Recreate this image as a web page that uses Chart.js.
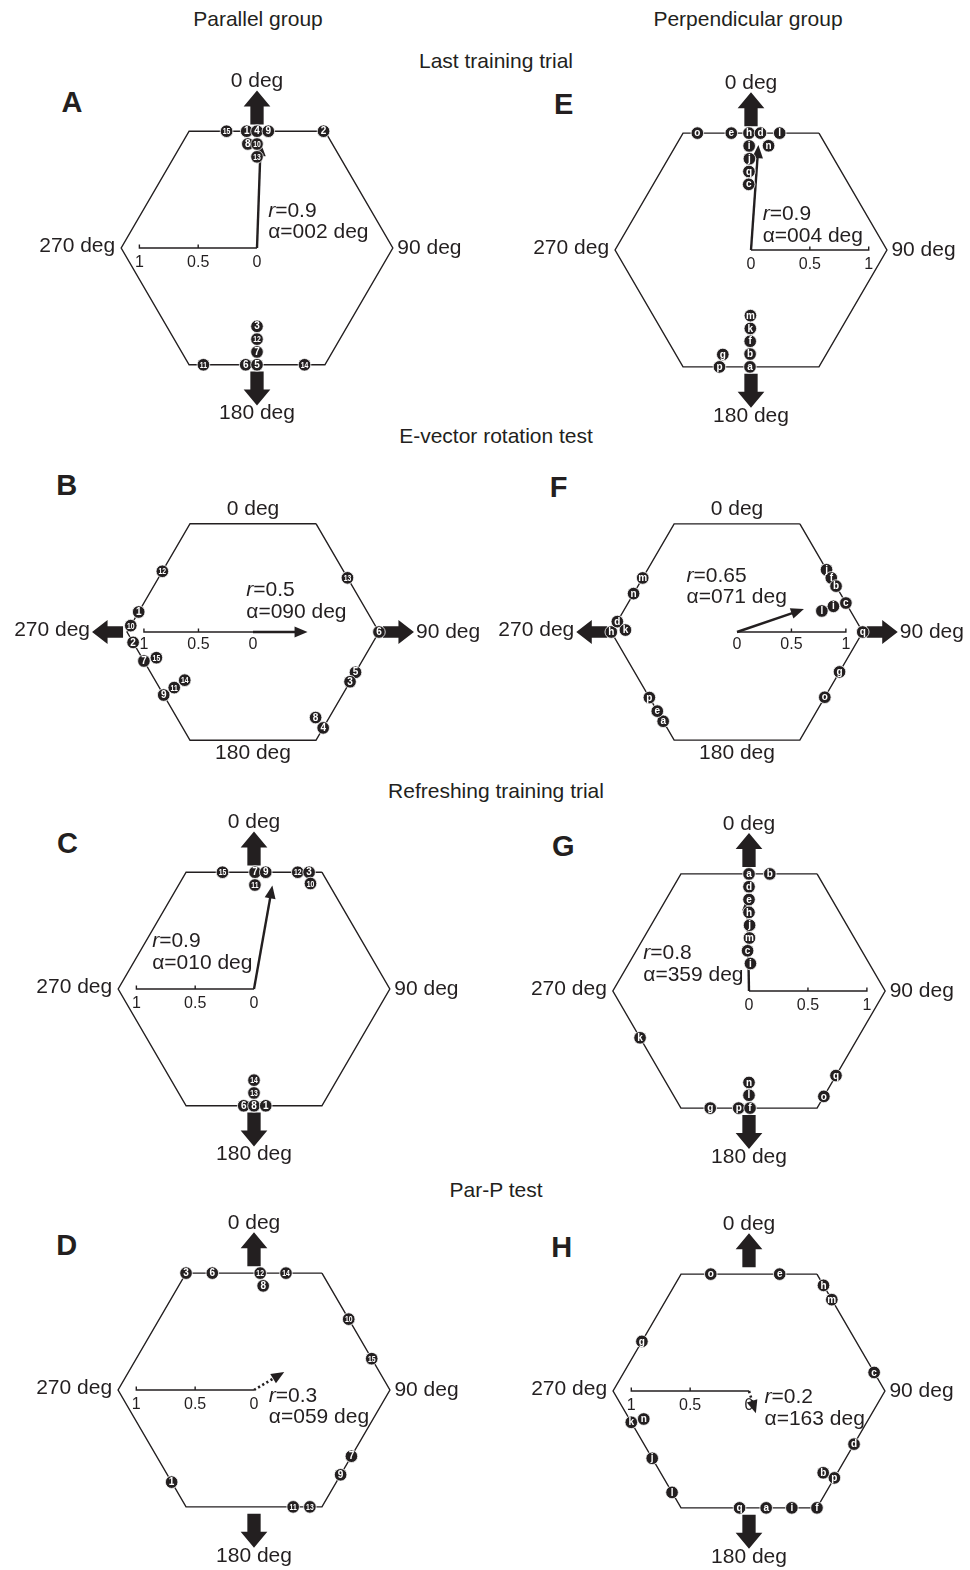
<!DOCTYPE html>
<html>
<head>
<meta charset="utf-8">
<title>Heading distributions</title>
<script src="https://cdn.jsdelivr.net/npm/chart.js@4.4.1/dist/chart.umd.min.js"></script>
<style>
  body { margin: 0; background: #fff; }
  #page { position: relative; width: 970px; height: 1570px; overflow: hidden; font-family: "Liberation Sans", Arial, sans-serif; color: #231f20; }
  .title { position: absolute; font-size: 21px; line-height: 21px; white-space: nowrap; transform: translateX(-50%); }
  .letter { position: absolute; font-size: 29px; line-height: 29px; font-weight: bold; }
  canvas { position: absolute; }
</style>
</head>
<body>
<div id="page">
  <div class="title" style="left:258px;top:7.5px">Parallel group</div>
  <div class="title" style="left:748px;top:7.5px">Perpendicular group</div>
  <div class="title" style="left:496px;top:50px">Last training trial</div>
  <div class="title" style="left:496px;top:424.7px">E-vector rotation test</div>
  <div class="title" style="left:496px;top:779.7px">Refreshing training trial</div>
  <div class="title" style="left:496px;top:1178.7px">Par-P test</div>
  <div class="letter" style="left:61.5px;top:87.6px">A</div>
  <div class="letter" style="left:56.2px;top:471px">B</div>
  <div class="letter" style="left:57px;top:829.2px">C</div>
  <div class="letter" style="left:56.2px;top:1231px">D</div>
  <div class="letter" style="left:554px;top:90px">E</div>
  <div class="letter" style="left:549.7px;top:472.6px">F</div>
  <div class="letter" style="left:552px;top:831.6px">G</div>
  <div class="letter" style="left:551.2px;top:1232.6px">H</div>
</div>
<script>
// headings in deg (clockwise from 0 deg), stack = how many places a point is pushed inwards
const labelsA = ['15', '1', '4', '9', '2', '8', '10', '13', '11', '6', '5', '14', '7', '12', '3'];
const headingsA = [345.5, 355, 0, 5.5, 29.5, 355, 0, 0, 204.5, 185.5, 180, 158, 180, 180, 180];
const stacksA = [0, 0, 0, 0, 0, 1, 1, 2, 0, 0, 0, 0, 1, 2, 3];

const labelsB = ['12', '1', '10', '2', '7', '15', '9', '11', '14', '13', '6', '5', '3', '4', '8'];
const headingsB = [304, 280, 273, 265, 255, 255, 234.6, 234.6, 234.6, 60, 90, 111.6, 117.3, 144, 144];
const stacksB = [0, 0, 0, 0, 0, 1, 0, 1, 2, 0, 0, 0, 0, 0, 1];

const labelsC = ['15', '7', '9', '12', '3', '11', '10', '6', '8', '1', '13', '14'];
const headingsC = [345, 0.5, 5.7, 20.4, 25.1, 0.5, 28, 185, 180, 174.3, 180, 180];
const stacksC = [0, 0, 0, 0, 0, 1, 1, 0, 0, 0, 1, 2];

const labelsD = ['3', '6', '12', '14', '8', '10', '15', '7', '9', '11', '13', '1'];
const headingsD = [330, 340.5, 3, 15.2, 5, 53, 75, 124.4, 134.6, 161.6, 154.6, 221.6];
const stacksD = [0, 0, 0, 0, 1, 0, 0, 0, 0, 0, 0, 0];

const labelsE = ['o', 'e', 'h', 'd', 'l', 'n', 'i', 'j', 'q', 'c', 'p', 'a', 'g', 'b', 'f', 'k', 'm'];
const headingsE = [335.5, 350.5, 359, 4.6, 13.7, 9.5, 359, 359, 358.5, 358, 195, 180.5, 195, 180.5, 180.5, 180.5, 180.5];
const stacksE = [0, 0, 0, 0, 0, 1, 1, 2, 3, 4, 0, 0, 1, 1, 2, 3, 4];

const labelsF = ['j', 'f', 'b', 'c', 'i', 'l', 'q', 'g', 'o', 'a', 'e', 'p', 'h', 'd', 'k', 'n', 'm'];
const headingsF = [55, 60, 65, 75, 75, 76, 90, 111.4, 126.8, 219.4, 225, 233, 270, 275, 271, 290.5, 300];
const stacksF = [0, 0, 0, 0, 1, 2, 0, 0, 0, 0, 0, 0, 0, 0, 1, 0, 0];

const labelsG = ['a', 'b', 'd', 'e', 'h', 'j', 'm', 'c', 'i', 'g', 'p', 'f', 'l', 'n', 'o', 'q', 'k'];
const headingsG = [0, 10, 0, 0, 0, 0.5, 0.5, 358, 3, 198.2, 185, 179.5, 180, 180, 144.8, 134.4, 246.6];
const stacksG = [0, 0, 1, 2, 3, 4, 5, 6, 7, 0, 0, 0, 1, 2, 0, 0, 0];

const labelsH = ['o', 'e', 'h', 'm', 'c', 'd', 'p', 'b', 'f', 'i', 'a', 'q', 'l', 'j', 'k', 'n', 'g'];
const headingsH = [342, 14.6, 35, 42, 81.5, 117, 135.7, 138, 150, 160, 171.7, 184.6, 217, 235, 255, 255, 295];
const stacksH = [0, 0, 0, 0, 0, 0, 0, 1, 0, 0, 0, 0, 0, 0, 0, 1, 0];

// mean vectors, panels A..H
const meanR = [0.9, 0.5, 0.9, 0.3, 0.9, 0.65, 0.8, 0.2];
const meanAlpha = [2, 90, 10, 59, 4, 71, 359, 163];

const dirLabels = ['0 deg', '90 deg', '180 deg', '270 deg'];
const scaleTicks = [0, 0.5, 1];
const scaleTickLabels = ['0', '0.5', '1'];

const INK = '#231f20';
const FONT = '"Liberation Sans", Arial, sans-serif';
const STEP_PX = 13.3;

// layout of each panel on the page (centre of hexagon, px per r=1)
const PANELS = [
  { id: 'A', cx: 256.5, cy: 248.3, u: 121.2, labels: labelsA, headings: headingsA, stacks: stacksA, arrows: 'v', bar: -1, note: [0.095, 0.316] },
  { id: 'B', cx: 253, cy: 632.3, u: 112.4, labels: labelsB, headings: headingsB, stacks: stacksB, arrows: 'h', bar: -1, note: [-0.062, 0.383] },
  { id: 'C', cx: 253.8, cy: 989.2, u: 121.2, labels: labelsC, headings: headingsC, stacks: stacksC, arrows: 'v', bar: -1, note: [-0.866, 0.406] },
  { id: 'D', cx: 253.5, cy: 1390.3, u: 121.3, labels: labelsD, headings: headingsD, stacks: stacksD, arrows: 'v', bar: -1, note: [0.126, -0.053], dotted: true },
  { id: 'E', cx: 751, cy: 250.3, u: 121.3, labels: labelsE, headings: headingsE, stacks: stacksE, arrows: 'v', bar: 1, note: [0.099, 0.305] },
  { id: 'F', cx: 737, cy: 632.2, u: 112.2, labels: labelsF, headings: headingsF, stacks: stacksF, arrows: 'h', bar: 1, note: [-0.463, 0.517] },
  { id: 'G', cx: 749, cy: 990.8, u: 121.5, labels: labelsG, headings: headingsG, stacks: stacksG, arrows: 'v', bar: 1, note: [-0.897, 0.321] },
  { id: 'H', cx: 749, cy: 1390.8, u: 121.3, labels: labelsH, headings: headingsH, stacks: stacksH, arrows: 'v', bar: -1, note: [0.132, -0.054], dotted: true }
];

// distance from centre to the hexagon (apothem = 1) along a heading
function hexDist(h) {
  let a = ((h % 60) + 60) % 60;
  if (a > 30) a -= 60;
  return 1 / Math.cos(a * Math.PI / 180);
}

function place(h, stack, step) {
  const d = hexDist(h) - stack * step;
  const t = h * Math.PI / 180;
  return { x: d * Math.sin(t), y: d * Math.cos(t) };
}

function blockArrow(ctx, x0, y0, dx, dy, shaft, head, sw, hw) {
  const nx = -dy, ny = dx;
  const pts = [
    [x0 + nx * sw / 2, y0 + ny * sw / 2],
    [x0 + dx * shaft + nx * sw / 2, y0 + dy * shaft + ny * sw / 2],
    [x0 + dx * shaft + nx * hw / 2, y0 + dy * shaft + ny * hw / 2],
    [x0 + dx * (shaft + head), y0 + dy * (shaft + head)],
    [x0 + dx * shaft - nx * hw / 2, y0 + dy * shaft - ny * hw / 2],
    [x0 + dx * shaft - nx * sw / 2, y0 + dy * shaft - ny * sw / 2],
    [x0 - nx * sw / 2, y0 - ny * sw / 2]
  ];
  ctx.beginPath();
  pts.forEach((p, i) => i ? ctx.lineTo(p[0], p[1]) : ctx.moveTo(p[0], p[1]));
  ctx.closePath();
  ctx.fill();
}

function panelPlugin(p, r, alpha) {
  return {
    id: 'panel' + p.id,
    beforeDatasetsDraw(chart) {
      const ctx = chart.ctx, xs = chart.scales.x, ys = chart.scales.y;
      const X = v => xs.getPixelForValue(v), Y = v => ys.getPixelForValue(v);
      const cx = X(0), cy = Y(0), u = X(1) - X(0), R = u / Math.cos(Math.PI / 6);
      ctx.save();
      ctx.fillStyle = INK;
      ctx.strokeStyle = INK;

      // training e-vector arrows
      if (p.arrows === 'v') {
        blockArrow(ctx, cx, cy - u - 6, 0, -1, 18, 16, 13.3, 26.7);
        blockArrow(ctx, cx, cy + u + 6, 0, 1, 18, 16, 13.3, 26.7);
      } else {
        blockArrow(ctx, cx + R + 4, cy, 1, 0, 15.5, 15.5, 11.7, 24);
        blockArrow(ctx, cx - R - 4, cy, -1, 0, 15.5, 15.5, 11.7, 24);
      }

      // scale bar for r
      ctx.lineWidth = 1.4;
      ctx.beginPath();
      ctx.moveTo(X(0), cy);
      ctx.lineTo(X(p.bar), cy);
      scaleTicks.forEach(t => {
        if (t > 0) { ctx.moveTo(X(p.bar * t), cy - 3.5); ctx.lineTo(X(p.bar * t), cy + 0.7); }
      });
      ctx.stroke();
      ctx.font = '16px ' + FONT;
      ctx.textAlign = 'center';
      ctx.textBaseline = 'middle';
      scaleTicks.forEach((t, i) => ctx.fillText(scaleTickLabels[i], X(p.bar * t), cy + 0.12 * u));

      // mean vector
      const a = alpha * Math.PI / 180;
      const ux = Math.sin(a), uy = -Math.cos(a);
      const tx = X(r * Math.sin(a)), ty = Y(r * Math.cos(a));
      const hl = 13, hw = 5.5;
      const bx = tx - ux * hl, by = ty - uy * hl;
      ctx.lineWidth = p.dotted ? 2.6 : 2.4;
      if (p.dotted) ctx.setLineDash([2.2, 2.6]);
      ctx.beginPath();
      ctx.moveTo(cx, cy);
      ctx.lineTo(bx + ux * 1.5, by + uy * 1.5);
      ctx.stroke();
      ctx.setLineDash([]);
      ctx.beginPath();
      ctx.moveTo(tx, ty);
      ctx.lineTo(bx - uy * hw, by + ux * hw);
      ctx.lineTo(bx + uy * hw, by - ux * hw);
      ctx.closePath();
      ctx.fill();
      ctx.restore();
    },
    afterDatasetsDraw(chart) {
      const ctx = chart.ctx, xs = chart.scales.x, ys = chart.scales.y;
      const X = v => xs.getPixelForValue(v), Y = v => ys.getPixelForValue(v);
      const cx = X(0), cy = Y(0), u = X(1) - X(0), R = u / Math.cos(Math.PI / 6);
      ctx.save();

      // labels inside the points
      ctx.fillStyle = '#fff';
      ctx.textAlign = 'center';
      ctx.textBaseline = 'middle';
      const meta = chart.getDatasetMeta(1);
      meta.data.forEach((el, i) => {
        const t = p.labels[i];
        ctx.save();
        ctx.translate(el.x, el.y + 0.4);
        if (t.length > 1) {
          ctx.font = 'bold 9.5px ' + FONT;
          ctx.scale(0.72, 1);
        } else {
          ctx.font = 'bold 10px ' + FONT;
        }
        ctx.fillText(t, 0, 0);
        ctx.restore();
      });

      // compass labels
      ctx.fillStyle = INK;
      ctx.font = '21px ' + FONT;
      const v = p.arrows === 'v';
      ctx.fillText(dirLabels[0], cx, v ? cy - u - 49 : cy - u - 13.5);
      ctx.fillText(dirLabels[2], cx, v ? cy + u + 48 : cy + u + 12.5);
      ctx.textAlign = 'left';
      ctx.fillText(dirLabels[1], v ? cx + R + 4.5 : cx + R + 37, cy);
      ctx.textAlign = 'right';
      ctx.fillText(dirLabels[3], v ? cx - R - 6 : cx - R - 37, cy - 1.5);

      // r and alpha of the mean vector
      ctx.textAlign = 'left';
      const nx = X(p.note[0]), ny = Y(p.note[1]);
      ctx.font = 'italic 21px ' + FONT;
      ctx.fillText('r', nx, ny);
      const w = ctx.measureText('r').width;
      ctx.font = '21px ' + FONT;
      ctx.fillText('=' + r, nx + w, ny);
      ctx.fillText('\u03b1=' + String(alpha).padStart(3, '0') + ' deg', nx, ny + 21.5);
      ctx.restore();
    }
  };
}

const page = document.getElementById('page');
const W = 480, Hh = 390;

PANELS.forEach((p, k) => {
  const c = document.createElement('canvas');
  c.width = W;
  c.height = Hh;
  c.style.width = W + 'px';
  c.style.height = Hh + 'px';
  c.style.left = (p.cx - W / 2) + 'px';
  c.style.top = (p.cy - Hh / 2) + 'px';
  page.appendChild(c);

  const step = STEP_PX / p.u;
  const hexagon = [30, 90, 150, 210, 270, 330, 30].map(h => place(h, 0, 0));
  const points = p.headings.map((h, i) => place(h, p.stacks[i], step));

  new Chart(c, {
    type: 'scatter',
    data: {
      datasets: [
        {
          data: hexagon,
          showLine: true,
          borderColor: INK,
          borderWidth: 1.4,
          borderJoinStyle: 'miter',
          pointRadius: 0,
          order: 2
        },
        {
          data: points,
          pointRadius: 6.3,
          pointBackgroundColor: INK,
          pointBorderColor: '#fff',
          pointBorderWidth: 0.8,
          order: 1
        }
      ]
    },
    options: {
      responsive: false,
      animation: false,
      events: [],
      layout: { padding: 0 },
      plugins: { legend: { display: false }, tooltip: { enabled: false } },
      scales: {
        x: { type: 'linear', display: false, min: -(W / 2) / p.u, max: (W / 2) / p.u },
        y: { type: 'linear', display: false, min: -(Hh / 2) / p.u, max: (Hh / 2) / p.u }
      }
    },
    plugins: [panelPlugin(p, meanR[k], meanAlpha[k])]
  });
});
</script>
</body>
</html>
